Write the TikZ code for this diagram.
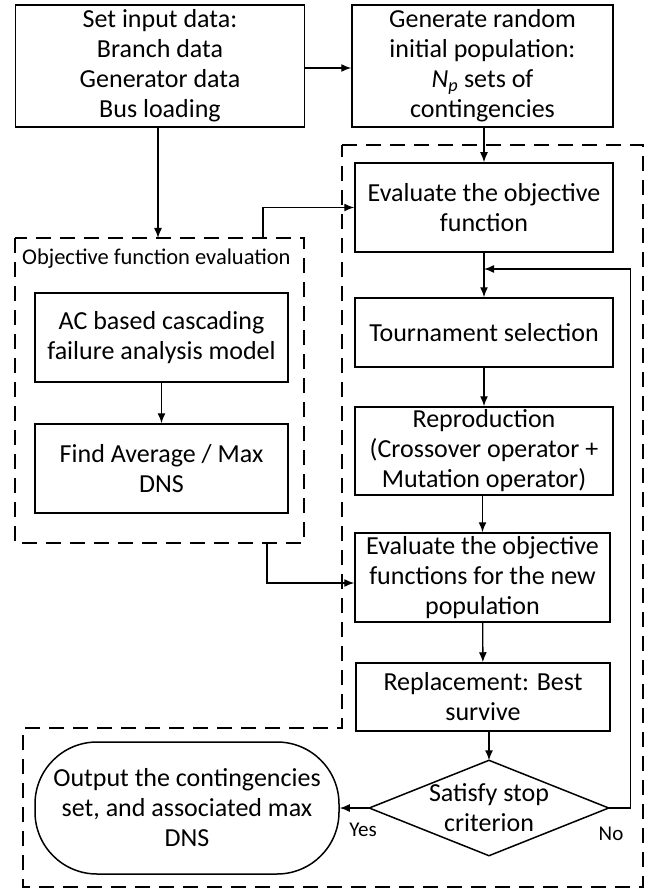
\documentclass[tikz,border=0pt]{standalone}
\usepackage{fontspec}
\setmainfont{Carlito}
\usetikzlibrary{shapes,arrows,arrows.meta}
\usetikzlibrary{positioning}

\tikzset{
    block/.style={draw, line width=1.5pt, align=center, inner sep=1pt,
        font=\fontsize{26}{30}\selectfont},
    decide/.style={align=center, inner sep=0pt,
        minimum width=239pt, minimum height=95pt, font=\fontsize{26}{30}\selectfont},
    terminal/.style={draw, line width=1.5pt, align=center, rounded corners=62pt,
        minimum width=304pt, minimum height=132pt, font=\fontsize{26}{30}\selectfont},
    arr/.style={line width=1.4pt, -{Latex[length=10pt,width=8pt]}},
    region/.style={line width=1.3pt, dash pattern=on 15pt off 9pt},
    lbl/.style={font=\fontsize{21}{24}\selectfont, inner sep=0pt}
}

\begin{document}
\begin{tikzpicture}[x=1pt,y=-1pt]
    \useasboundingbox (0,0) rectangle (657,890);
    % dashed regions
    \draw[region] (15,238) rectangle (304,543);
    \draw[region] (342,145) -- (643,145) -- (643,887) -- (23,887)
        -- (23,728) -- (342,728) -- cycle;
    \node[anchor=west, inner sep=0pt, font=\fontsize{22.5}{26}\selectfont] (ofetitle)
        at (22,259) {Objective function evaluation};
    \coordinate (ofeN) at (263,238);
    \coordinate (ofeS) at (267,543);
    \coordinate (loop) at (484,269);

    % blocks
    \node[block, minimum width=289pt, minimum height=122pt] (inputs) at (160,66)
        {Set input data:\\Branch data\\Generator data\\Bus loading};
    \node[block, minimum width=261pt, minimum height=122pt] (initpop) at (482.5,66)
        {Generate random\\initial population:\\\textit{N}\textsubscript{\textit{p}} sets of\\contingencies};
    \node[block, minimum width=258pt, minimum height=89pt] (evalobj) at (484,207.5)
        {Evaluate the objective\\function};
    \node[block, minimum width=253pt, minimum height=89pt] (cascade) at (161.5,337.5)
        {AC based cascading\\failure analysis model};
    \node[block, minimum width=253pt, minimum height=89pt] (findavg) at (161.5,468.5)
        {Find Average / Max\\DNS};
    \node[block, minimum width=258pt, minimum height=69pt] (tourn) at (484,332.5)
        {Tournament selection};
    \node[block, minimum width=258pt, minimum height=88pt] (repro) at (484,451)
        {Reproduction\\(Crossover operator +\\Mutation operator)};
    \node[block, minimum width=255pt, minimum height=89pt] (evalnew) at (482.5,577.5)
        {Evaluate the objective\\functions for the new\\population};
    \node[block, minimum width=254pt, minimum height=68pt] (replace) at (483,697)
        {Replacement: Best\\survive};
    \node[decide] (stop) at (489,808) {Satisfy stop\\criterion};
    \draw[line width=1.5pt] (stop.north) -- (stop.east) -- (stop.south)
        -- (stop.west) -- cycle;
    \node[terminal] (output) at (187,808)
        {Output the contingencies\\set, and associated max\\DNS};
    \node[lbl] (yes) at (363,830) {Yes};
    \node[lbl] (no) at (611,834) {No};

    % connectors
    \draw[arr] (inputs.east |- 0,68) -- (initpop.west |- 0,68);
    \draw[arr] (inputs.south -| 158,0) -- (158,238);
    \draw[arr] (initpop.south -| evalobj) -- (evalobj.north);
    \draw[arr] (ofeN) |- (evalobj.west);
    \draw[arr] (evalobj.south) -- (tourn.north);
    \draw[arr] (cascade) -- (findavg);
    \draw[arr] (tourn) -- (repro);
    \draw[arr] (repro.south -| evalnew) -- (evalnew.north);
    \draw[arr] (ofeS) |- ([yshift=-5.5pt]evalnew.west);
    \draw[arr] (evalnew) -- (replace);
    \draw[arr] (replace.south -| stop) -- (stop.north);
    \draw[arr] (stop.east) -- ++(22,0) |- (loop);
    \draw[arr] (stop.west) -- (output.east);
\end{tikzpicture}
\end{document}
